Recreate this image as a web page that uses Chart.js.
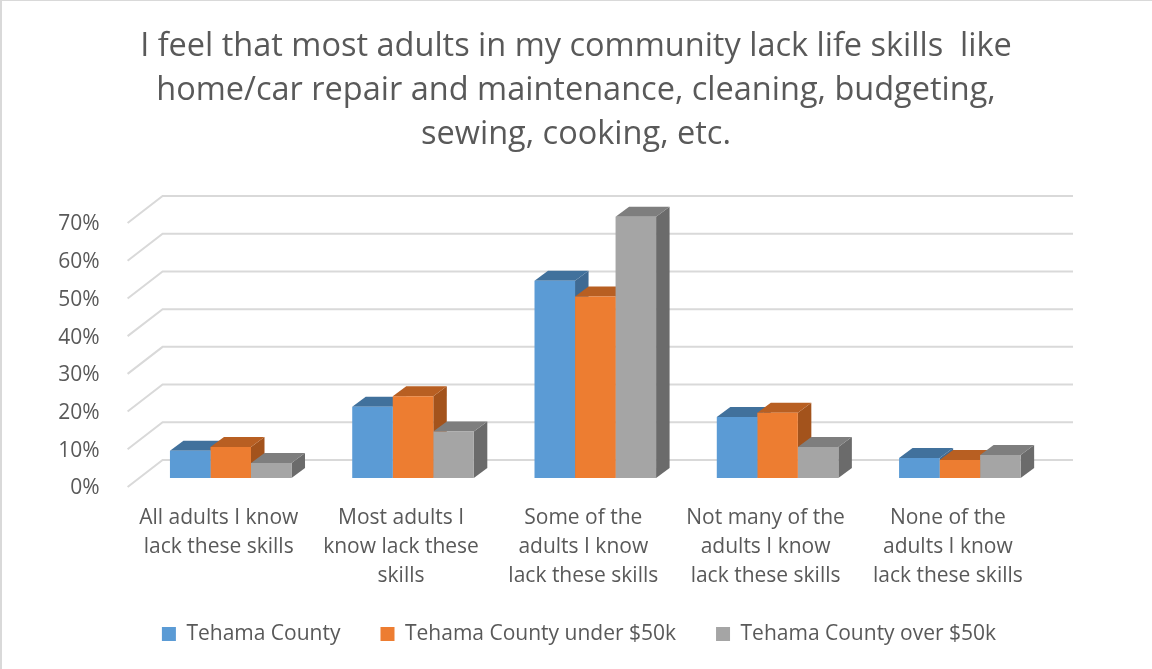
<!DOCTYPE html>
<html>
<head>
<meta charset="utf-8">
<style>
html, body { margin: 0; padding: 0; background: #fff; overflow: hidden; }
#box { position: relative; width: 1152px; height: 669px; }
#edge { position: absolute; left: 0; top: 0; right: 0; bottom: 0; border-left: 2px solid #d9d9d9; border-top: 1px solid #d9d9d9; pointer-events: none; }
</style>
<script src="https://cdn.jsdelivr.net/npm/chart.js@4"></script>
</head>
<body>
<div id="box">
<canvas id="myChart" width="1152" height="669"></canvas>
<div id="edge"></div>
</div>
<script>
var titleLines = [
   "I feel that most adults in my community lack life skills  like",
   "home/car repair and maintenance, cleaning, budgeting,",
   "sewing, cooking, etc."
];
var categories = [
   ["All adults I know", "lack these skills"],
   ["Most adults I", "know lack these", "skills"],
   ["Some of the", "adults I know", "lack these skills"],
   ["Not many of the", "adults I know", "lack these skills"],
   ["None of the", "adults I know", "lack these skills"]
];
var county = [7.2, 18.9, 52.3, 16.2, 5.3];
var under50k = [8.2, 21.7, 48.1, 17.3, 4.8];
var over50k = [4.0, 12.3, 69.3, 8.2, 6.1];

var textColor = "#595959";
var gridColor = "#d9d9d9";
var fontName = "'Open Sans', sans-serif";

// 3D look: the library places the front of each bar, this adds top and side
var fake3d = {
   id : "fake3d",
   afterLayout : function(chart){
      // tick labels get clipped to the scale box, so open it up
      chart.scales.y.left = 0;
      chart.scales.x.bottom = 610;
      chart.legend.left += 3;
      chart.legend.right += 3;
   },
   beforeDatasetsDraw : function(chart){
      var ctx = chart.ctx;
      var yScale = chart.scales.y;
      var left = chart.chartArea.left;
      var dx = 13.5;
      var dy = 10;
      ctx.save();
      ctx.strokeStyle = gridColor;
      ctx.lineWidth = 2;
      yScale.ticks.forEach(function(tick){
         var y = yScale.getPixelForValue(tick.value) - 18;
         ctx.beginPath();
         ctx.moveTo(left - 12, y + 27);
         ctx.lineTo(left + 23, y);
         ctx.lineTo(1073, y);
         ctx.stroke();
      });
      // left to right so the next bar covers the side of the one before it
      for(var c = 0; c < categories.length; c++){
         for(var i = 0; i < chart.data.datasets.length; i++){
            var ds = chart.data.datasets[i];
            var p = chart.getDatasetMeta(i).data[c].getProps(["x", "y", "base", "width"], true);
            var l = p.x - p.width / 2;
            var r = p.x + p.width / 2;
            ctx.fillStyle = ds.sideColor;
            ctx.beginPath();
            ctx.moveTo(r, p.y);
            ctx.lineTo(r + dx, p.y - dy);
            ctx.lineTo(r + dx, p.base - dy);
            ctx.lineTo(r, p.base);
            ctx.closePath();
            ctx.fill();
            ctx.fillStyle = ds.topColor;
            ctx.beginPath();
            ctx.moveTo(l, p.y);
            ctx.lineTo(l + dx, p.y - dy);
            ctx.lineTo(r + dx, p.y - dy);
            ctx.lineTo(r, p.y);
            ctx.closePath();
            ctx.fill();
         }
      }
      ctx.restore();
   }
};

var chartData = {
   labels : categories,
   datasets : [
      { label : "Tehama County", data : county, backgroundColor : "#5b9bd5", topColor : "#41719c", sideColor : "#3f6a93" },
      { label : "Tehama County under $50k", data : under50k, backgroundColor : "#ed7d31", topColor : "#b85f22", sideColor : "#a3531c" },
      { label : "Tehama County over $50k", data : over50k, backgroundColor : "#a5a5a5", topColor : "#7e7e7e", sideColor : "#6b6b6b" }
   ]
};

var chartOptions = {
   responsive : false,
   animation : false,
   layout : { padding : { left : 101, right : 101, top : 0, bottom : 14.5 } },
   datasets : { bar : { categoryPercentage : 0.667, barPercentage : 1, borderWidth : 0 } },
   plugins : {
      title : {
         display : true,
         text : titleLines,
         color : textColor,
         font : { family : fontName, size : 32.5, weight : "normal", lineHeight : 44 / 32.5 },
         padding : { top : 25, bottom : 57 }
      },
      legend : {
         position : "bottom",
         labels : {
            color : textColor,
            boxWidth : 14,
            boxHeight : 14,
            padding : 40,
            font : { family : fontName, size : 21 }
         }
      },
      tooltip : { enabled : false }
   },
   scales : {
      x : {
         grid : { display : false },
         border : { display : false },
         afterFit : function(scale){ scale.height = 105.5; },
         ticks : {
            color : textColor,
            autoSkip : false,
            maxRotation : 0,
            labelOffset : -12,
            padding : 18,
            font : { family : fontName, size : 21, lineHeight : 29 / 21 }
         }
      },
      y : {
         min : 0,
         max : 70,
         grid : { display : false },
         border : { display : false },
         afterFit : function(scale){ scale.width = 38.6; },
         ticks : {
            stepSize : 10,
            color : textColor,
            padding : 32,
            labelOffset : 10.5,
            font : { family : fontName, size : 21 },
            callback : function(value){ return value + "%"; }
         }
      }
   }
};

var ctx = document.getElementById("myChart").getContext("2d");
var myChart = new Chart(ctx, {
   type : "bar",
   data : chartData,
   options : chartOptions,
   plugins : [fake3d]
});
</script>
</body>
</html>
